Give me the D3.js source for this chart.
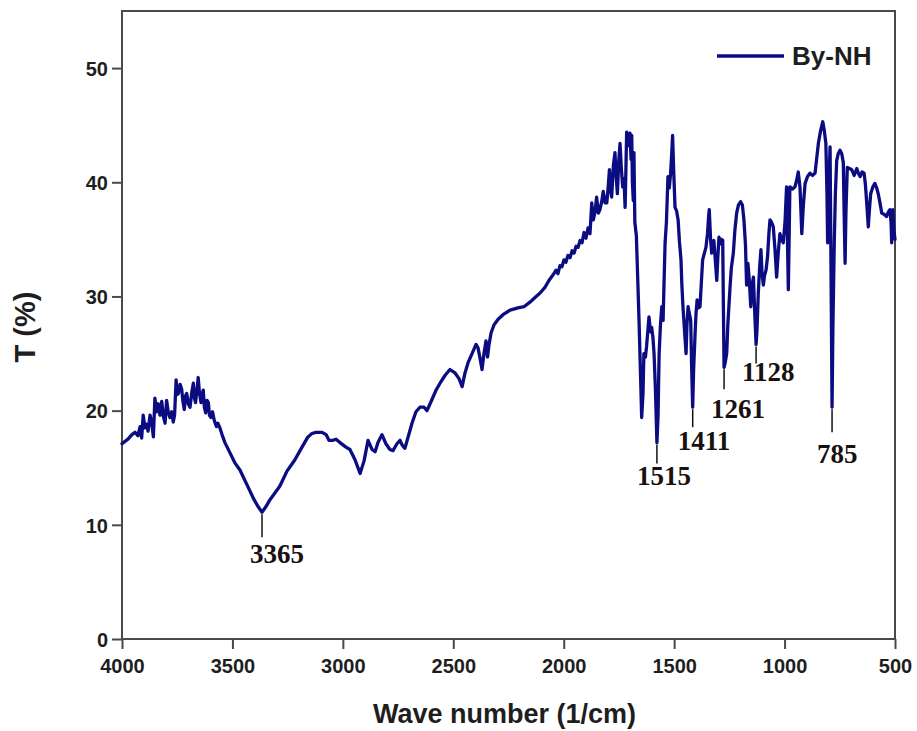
<!DOCTYPE html>
<html>
<head>
<meta charset="utf-8">
<script src="https://cdn.jsdelivr.net/npm/d3@7"></script>
<style>
  html, body { margin: 0; padding: 0; background: #fff; }
  svg { display: block; }
</style>
</head>
<body>
<svg id="chart" width="917" height="731"></svg>
<script>
// FTIR spectrum of By-NH: wavenumber (cm^-1) and transmittance (%)
const wavenumber = [
  4000, 3973, 3955, 3941, 3928, 3918, 3911, 3904, 3896, 3888, 3882, 3873, 3866, 3858, 3851, 3844,
  3836, 3828, 3820, 3813, 3805, 3798, 3790, 3783, 3775, 3768, 3762, 3755, 3750, 3745, 3737, 3730,
  3724, 3718, 3712, 3707, 3700, 3692, 3684, 3677, 3672, 3667, 3660, 3655, 3649, 3642, 3638, 3632,
  3627, 3621, 3615, 3609, 3604, 3597, 3590, 3583, 3578, 3572, 3566, 3557, 3547, 3534, 3511, 3488,
  3466, 3429, 3402, 3384, 3366, 3348, 3330, 3307, 3285, 3253, 3217, 3185, 3158, 3140, 3122, 3094,
  3076, 3063, 3045, 3031, 3013, 2986, 2968, 2945, 2922, 2904, 2886, 2868, 2854, 2841, 2823, 2805,
  2787, 2773, 2755, 2741, 2732, 2719, 2700, 2687, 2669, 2651, 2633, 2619, 2596, 2578, 2560, 2537,
  2515, 2492, 2474, 2460, 2447, 2433, 2415, 2397, 2388, 2379, 2370, 2361, 2352, 2345, 2338, 2329,
  2316, 2297, 2275, 2243, 2207, 2180, 2153, 2125, 2107, 2085, 2067, 2048, 2035, 2026, 2017, 2008,
  1999, 1990, 1981, 1971, 1962, 1953, 1944, 1935, 1926, 1917, 1908, 1899, 1890, 1881, 1873, 1866,
  1858, 1851, 1843, 1836, 1828, 1821, 1813, 1805, 1799, 1793, 1788, 1783, 1775, 1768, 1763, 1757,
  1751, 1745, 1739, 1733, 1727, 1722, 1718, 1715, 1707, 1700, 1695, 1692, 1689, 1685, 1682, 1678,
  1671, 1664, 1659, 1652, 1647, 1641, 1637, 1630, 1625, 1619, 1614, 1607, 1602, 1596, 1591, 1585,
  1578, 1573, 1568, 1562, 1556, 1550, 1546, 1541, 1535, 1528, 1522, 1516, 1511, 1507, 1502, 1496,
  1489, 1482, 1476, 1469, 1465, 1460, 1453, 1446, 1442, 1437, 1431, 1425, 1421, 1416, 1412, 1405,
  1401, 1396, 1389, 1383, 1376, 1371, 1363, 1356, 1349, 1344, 1341, 1335, 1330, 1324, 1320, 1313,
  1307, 1302, 1297, 1290, 1285, 1280, 1277, 1274, 1269, 1262, 1257, 1247, 1241, 1232, 1225, 1217,
  1209, 1199, 1191, 1184, 1177, 1172, 1166, 1160, 1153, 1147, 1141, 1136, 1129, 1125, 1119, 1113,
  1107, 1102, 1096, 1091, 1084, 1077, 1071, 1066, 1059, 1051, 1043, 1036, 1028, 1021, 1014, 1006,
  998, 991, 987, 983, 979, 976, 964, 953, 945, 938, 930, 922, 915, 907, 896, 885,
  873, 862, 855, 847, 837, 827, 820, 813, 808, 805, 800, 794, 790, 785, 781, 775,
  770, 764, 757, 749, 741, 734, 730, 726, 722, 716, 706, 696, 685, 673, 666, 658,
  649, 640, 634, 628, 621, 615, 610, 600, 591, 583, 576, 568, 560, 550, 538, 530,
  523, 518, 515, 510, 506, 500
];

const transmittance = [
  17.1, 17.5, 17.9, 18.1, 17.8, 18.6, 17.6, 19.6, 18.5, 18.8, 18.2, 19.6, 19.0, 17.7, 21.1, 19.9,
  20.6, 19.6, 20.8, 19.5, 18.9, 20.9, 19.8, 19.4, 19.9, 19.0, 19.6, 22.7, 21.4, 21.5, 22.3, 21.9,
  20.8, 20.1, 21.3, 21.5, 20.6, 20.3, 21.6, 22.4, 21.1, 20.7, 21.9, 22.9, 21.5, 20.7, 21.4, 21.8,
  20.3, 19.8, 20.9, 20.7, 19.6, 19.4, 19.9, 19.2, 18.9, 18.6, 18.9, 18.5, 17.9, 17.2, 16.3, 15.4,
  14.8, 13.3, 12.2, 11.6, 11.1, 11.6, 12.2, 12.8, 13.4, 14.7, 15.7, 16.8, 17.7, 18.0, 18.1, 18.1,
  17.9, 17.4, 17.4, 17.5, 17.2, 16.8, 16.6, 15.7, 14.5, 15.6, 17.4, 16.6, 16.4, 17.2, 17.9, 17.1,
  16.6, 16.5, 17.1, 17.4, 17.0, 16.7, 18.0, 18.9, 19.9, 20.3, 20.3, 20.0, 21.0, 21.8, 22.4, 23.1,
  23.6, 23.3, 22.8, 22.1, 23.3, 24.2, 25.0, 25.8, 25.5, 24.6, 23.6, 25.0, 26.1, 24.7, 25.8, 26.8,
  27.5, 28.0, 28.4, 28.8, 29.0, 29.1, 29.5, 30.0, 30.3, 30.8, 31.4, 31.9, 32.3, 32.0, 32.7, 32.6,
  33.2, 33.0, 33.6, 33.4, 34.0, 33.8, 34.4, 34.3, 34.9, 34.7, 35.6, 35.1, 36.0, 35.5, 38.2, 36.7,
  37.4, 38.7, 37.3, 37.6, 38.3, 39.2, 38.2, 38.2, 39.5, 41.1, 39.4, 38.7, 41.5, 42.6, 40.6, 39.0,
  41.8, 43.4, 41.2, 39.6, 40.3, 37.8, 41.5, 44.4, 43.2, 44.3, 42.0, 44.1, 40.0, 38.4, 42.6, 36.5,
  35.3, 31.0, 27.9, 23.0, 19.4, 21.5, 25.0, 24.7, 25.6, 27.0, 28.2, 26.9, 27.3, 26.4, 25.0, 22.0,
  17.2, 19.5, 25.0, 27.5, 29.1, 27.9, 31.0, 34.7, 36.5, 40.5, 39.5, 40.8, 42.5, 44.1, 41.0, 37.8,
  37.5, 36.7, 34.8, 33.2, 31.0, 29.1, 27.0, 25.0, 27.5, 29.1, 28.5, 27.9, 24.0, 20.3, 23.5, 26.8,
  28.5, 29.7, 29.0, 29.1, 31.5, 33.2, 33.8, 34.3, 35.5, 37.0, 37.6, 35.0, 33.8, 34.6, 34.9, 33.0,
  31.4, 33.5, 35.2, 34.6, 35.0, 34.9, 29.0, 23.8, 24.2, 25.0, 27.5, 30.8, 32.5, 33.8, 35.8, 37.3,
  38.0, 38.3, 38.0, 36.7, 34.5, 31.0, 32.9, 31.5, 29.1, 31.0, 31.7, 29.0, 25.8, 27.0, 30.3, 32.5,
  34.1, 32.0, 31.0, 31.8, 32.3, 33.5, 35.5, 36.7, 36.5, 36.1, 34.0, 31.7, 34.0, 35.5, 35.0, 34.7,
  36.5, 39.6, 35.0, 30.6, 35.5, 39.6, 39.4, 39.6, 40.2, 40.9, 39.5, 35.5, 38.0, 39.9, 40.5, 40.8,
  40.6, 40.8, 42.0, 43.4, 44.5, 45.3, 44.5, 43.4, 39.0, 34.7, 39.5, 43.1, 33.0, 20.3, 27.5, 34.7,
  39.0, 41.9, 42.5, 42.8, 42.5, 41.7, 37.0, 32.9, 37.5, 41.3, 41.2, 41.1, 40.6, 41.2, 40.8, 40.5,
  40.9, 40.8, 39.8, 38.2, 36.1, 37.8, 39.0, 39.6, 39.9, 39.5, 39.0, 38.2, 37.3, 37.2, 37.0, 37.4,
  37.6, 36.5, 34.7, 37.6, 36.0, 35.0
];

// Assigned band positions (cm^-1)
const peakValues = [3365, 1515, 1411, 1261, 1128, 785];
const peakLabels = ["3365", "1515", "1411", "1261", "1128", "785"];

const xTickValues = [4000, 3500, 3000, 2500, 2000, 1500, 1000, 500];
const yTickValues = [0, 10, 20, 30, 40, 50];
const seriesName = "By-NH";

// Annotation layout (pixels): pointer length, label drop below the band minimum, label shift
const pointerLen = [23, 19, 18, 20, 17, 23];
const labelDrop = [51, 42, 43, 51, 37, 56];
const labelShift = [-12, -20, -15, -13, -14, -15];

const W = 917, H = 731;
const margin = { top: 11, right: 22, bottom: 92, left: 122 };
const innerW = W - margin.left - margin.right;
const innerH = H - margin.top - margin.bottom;

const lineColor = "#0c0c82";
const frameColor = "#4a4a4a";

const svg = d3.select("#chart");
const g = svg.append("g").attr("transform", `translate(${margin.left},${margin.top})`);

const x = d3.scaleLinear().domain([4000, 500]).range([0, innerW]);
const y = d3.scaleLinear().domain([0, 55]).range([innerH, 0]);

const points = wavenumber.map((w, i) => ({ w, t: transmittance[i] }));

// Axes
const xAxis = d3.axisBottom(x).tickValues(xTickValues).tickSize(10).tickSizeOuter(0).tickFormat(d3.format("d"));
const yAxis = d3.axisLeft(y).tickValues(yTickValues).tickSize(10).tickSizeOuter(0).tickFormat(d3.format("d"));

const gx = g.append("g").attr("transform", `translate(0,${innerH})`).call(xAxis);
const gy = g.append("g").call(yAxis);

[gx, gy].forEach(ax => {
  ax.select(".domain").remove();
  ax.selectAll(".tick line").attr("stroke", frameColor).attr("stroke-width", 2);
  ax.selectAll(".tick text")
    .attr("fill", "#1e1e1e")
    .style("font-family", "'Liberation Sans', Arial, sans-serif")
    .style("font-weight", "bold")
    .style("font-size", "20px");
});
gx.selectAll(".tick text").attr("dy", "1.05em");
gy.selectAll(".tick text").attr("x", -14).attr("dy", "0.36em");

// Plot frame
g.append("rect")
  .attr("x", 0).attr("y", 0)
  .attr("width", innerW).attr("height", innerH)
  .attr("fill", "none")
  .attr("stroke", frameColor)
  .attr("stroke-width", 2);

// Spectrum
const line = d3.line().x(d => x(d.w)).y(d => y(d.t));
g.append("path")
  .datum(points)
  .attr("d", line)
  .attr("fill", "none")
  .attr("stroke", lineColor)
  .attr("stroke-width", 3.3)
  .attr("stroke-linejoin", "round")
  .attr("stroke-linecap", "round");

// Band annotations: pointer at the local transmittance minimum near each assigned band
const annot = g.append("g");
peakValues.forEach((v, k) => {
  let best = null;
  points.forEach(p => {
    if (Math.abs(p.w - v) <= 70 && (best === null || p.t < best.t)) best = p;
  });
  const px = x(best.w);
  const py = y(best.t);
  annot.append("line")
    .attr("x1", px).attr("x2", px)
    .attr("y1", py + 2).attr("y2", py + 2 + pointerLen[k])
    .attr("stroke", "#111")
    .attr("stroke-width", 1.5);
  annot.append("text")
    .attr("x", px + labelShift[k])
    .attr("y", py + labelDrop[k])
    .attr("fill", "#1a1010")
    .style("font-family", "'Liberation Serif', 'Times New Roman', serif")
    .style("font-weight", "bold")
    .style("font-size", "27px")
    .text(peakLabels[k]);
});

// Legend
const legend = g.append("g").attr("transform", `translate(${717 - margin.left},${56 - margin.top})`);
legend.append("line")
  .attr("x1", 0).attr("x2", 67).attr("y1", 0).attr("y2", 0)
  .attr("stroke", lineColor).attr("stroke-width", 3.5);
legend.append("text")
  .attr("x", 75).attr("y", 0).attr("dy", "0.35em")
  .attr("fill", "#1e1e1e")
  .style("font-family", "'Liberation Sans', Arial, sans-serif")
  .style("font-weight", "bold")
  .style("font-size", "26px")
  .text(seriesName);

// Axis titles
svg.append("text")
  .attr("x", margin.left + innerW / 2 - 4)
  .attr("y", 723)
  .attr("text-anchor", "middle")
  .attr("fill", "#1e1e1e")
  .style("font-family", "'Liberation Sans', Arial, sans-serif")
  .style("font-weight", "bold")
  .style("font-size", "27px")
  .text("Wave number (1/cm)");

svg.append("text")
  .attr("transform", "translate(35,327) rotate(-90)")
  .attr("text-anchor", "middle")
  .attr("fill", "#1e1e1e")
  .style("font-family", "'Liberation Sans', Arial, sans-serif")
  .style("font-weight", "bold")
  .style("font-size", "29px")
  .text("T (%)");
</script>
</body>
</html>
